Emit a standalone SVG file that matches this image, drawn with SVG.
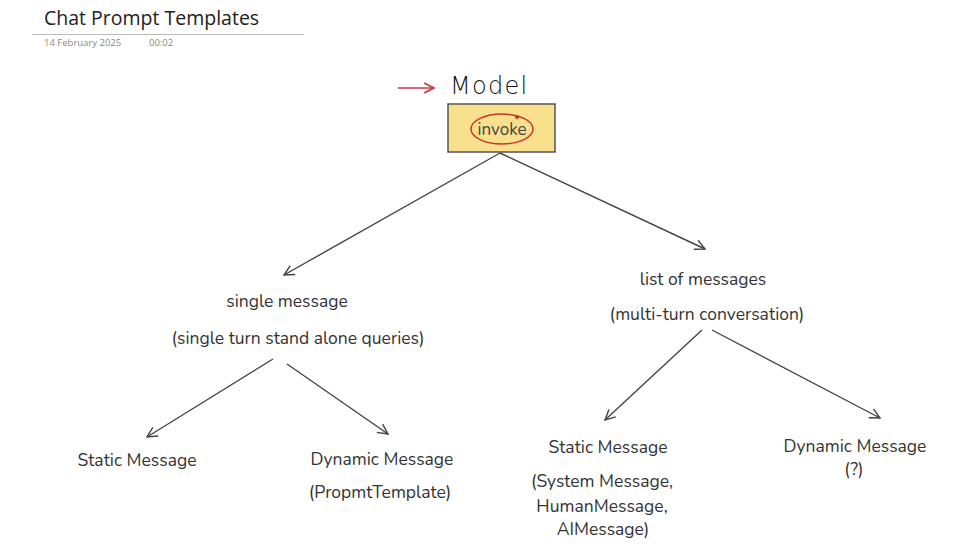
<svg xmlns="http://www.w3.org/2000/svg" width="960" height="558" viewBox="0 0 960 558">
<defs>
<style>
.t{font-family:"Nunito","Open Sans","Lato",sans-serif;font-size:17.5px;fill:#333;text-anchor:middle}
.c{stroke:#444;stroke-width:1.4;fill:none}
</style>
<marker id="ah" viewBox="0 0 12 12" refX="11" refY="6" markerWidth="12" markerHeight="12" markerUnits="userSpaceOnUse" orient="auto">
<path d="M1,1 L11,6 L1,11" fill="none" stroke="#444" stroke-width="1.4"/>
</marker>
<marker id="ahr" viewBox="0 0 12 12" refX="11" refY="6" markerWidth="12" markerHeight="12" markerUnits="userSpaceOnUse" orient="auto">
<path d="M1,1 L11,6 L1,11" fill="none" stroke="#c8364a" stroke-width="1.6"/>
</marker>
</defs>
<rect width="960" height="558" fill="#fff"/>
<g id="header">
<text x="44" y="25" font-family="Open Sans,Liberation Sans,sans-serif" font-size="19.5" fill="#222">Chat Prompt Templates</text>
<line x1="32" y1="34.5" x2="304" y2="34.5" stroke="#bbb" stroke-width="1"/>
<text x="44" y="46" font-family="Open Sans,Liberation Sans,sans-serif" font-size="9.5" fill="#888">14 February 2025</text>
<text x="149" y="46" font-family="Open Sans,Liberation Sans,sans-serif" font-size="9.5" fill="#888">00:02</text>
</g>
<g id="model">
<line x1="398" y1="88" x2="434" y2="88" stroke="#c8364a" stroke-width="1.6" marker-end="url(#ahr)"/>
<text x="450" y="94" font-family="DejaVu Sans,sans-serif" font-size="24" font-weight="300" fill="#111" letter-spacing="1.3">Model</text>
</g>
<g id="invoke">
<rect x="448" y="104" width="107" height="48" fill="#f9e08d" stroke="#555" stroke-width="1.5"/>
<text x="502" y="135" font-family="Nunito,Open Sans,sans-serif" font-size="17" fill="#444" text-anchor="middle">invoke</text>
<ellipse cx="502" cy="129" rx="31" ry="15" fill="none" stroke="#c8362a" stroke-width="1.5"/>
<circle cx="517" cy="117" r="2" fill="#c8362a"/>
</g>
<g id="connectors">
<line class="c" x1="500" y1="153" x2="284" y2="275" marker-end="url(#ah)"/>
<line class="c" x1="500" y1="153" x2="705" y2="249" marker-end="url(#ah)"/>
<line class="c" x1="273" y1="359" x2="147" y2="437" marker-end="url(#ah)"/>
<line class="c" x1="287" y1="364" x2="388" y2="434" marker-end="url(#ah)"/>
<line class="c" x1="702" y1="330" x2="605" y2="420" marker-end="url(#ah)"/>
<line class="c" x1="712" y1="330" x2="880" y2="418" marker-end="url(#ah)"/>
</g>
<g id="single">
<text class="t" x="287" y="307">single message</text>
<text class="t" x="298" y="344">(single turn stand alone queries)</text>
</g>
<g id="list">
<text class="t" x="703" y="285">list of messages</text>
<text class="t" x="707" y="320">(multi-turn conversation)</text>
</g>
<g id="static1">
<text class="t" x="137" y="466">Static Message</text>
</g>
<g id="dynamic1">
<text class="t" x="382" y="465">Dynamic Message</text>
<text class="t" x="380" y="498">(PropmtTemplate)</text>
</g>
<g id="static2">
<text class="t" x="608" y="453">Static Message</text>
<text class="t" x="602" y="487">(System Message,</text>
<text class="t" x="602" y="512">HumanMessage,</text>
<text class="t" x="603" y="535">AIMessage)</text>
</g>
<g id="dynamic2">
<text class="t" x="855" y="452">Dynamic Message</text>
<text class="t" x="854" y="475">(?)</text>
</g>
</svg>
